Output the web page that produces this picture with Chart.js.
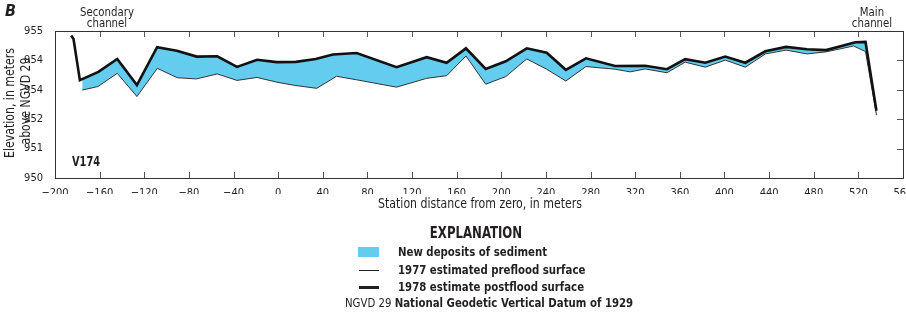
<!DOCTYPE html>
<html>
<head>
<meta charset="utf-8">
<script src="https://cdn.jsdelivr.net/npm/chart.js@4/dist/chart.umd.min.js"></script>
<style>
  body { margin: 0; background: #fff; }
  #wrap { position: relative; width: 906px; height: 313px; overflow: hidden; font-family: 'Liberation Sans Narrow', 'DejaVu Sans Condensed', 'Arial Narrow', sans-serif; color: #231f20; }
  #wrap canvas { position: absolute; left: 0; top: 0; }
  .t { position: absolute; white-space: nowrap; }
  .b { font-weight: bold; }
  .c { transform: translateX(-50%) scaleX(.87); text-align: center; }
  .l { transform: scaleX(.87); transform-origin: left center; }
</style>
</head>
<body>
<div id="wrap">
  <canvas id="grafica" width="906" height="313"></canvas>
  <div class="t b" style="left:5px;top:1px;font-size:16px;font-style:italic;">B</div>
  <div class="t c" style="left:107px;top:6px;font-size:13px;line-height:11px;">Secondary<br>channel</div>
  <div class="t c" style="left:872px;top:6px;font-size:13px;line-height:11px;">Main<br>channel</div>
  <div class="t" style="left:9px;top:103px;font-size:14px;transform:translate(-50%,-50%) rotate(-90deg) scaleX(.87);">Elevation, in meters</div>
  <div class="t" style="left:25px;top:101px;font-size:14px;transform:translate(-50%,-50%) rotate(-90deg) scaleX(.87);">above NGVD 29</div>
  <div class="t b" style="left:72px;top:153px;font-size:14px;transform:scaleX(.78);transform-origin:left center;">V174</div>
  <div class="t c" style="left:480px;top:195px;font-size:14px;">Station distance from zero, in meters</div>
  <div class="t b c" style="left:476px;top:224px;font-size:15px;">EXPLANATION</div>
  <div class="t" style="left:358px;top:247px;width:21px;height:10px;background:#63ccef;"></div>
  <div class="t b l" style="left:398px;top:244px;font-size:13px;">New deposits of sediment</div>
  <div class="t" style="left:359px;top:270px;width:20px;height:1px;background:#231f20;"></div>
  <div class="t b l" style="left:398px;top:262px;font-size:13px;">1977 estimated preflood surface</div>
  <div class="t" style="left:359px;top:286px;width:20px;height:3px;background:#231f20;"></div>
  <div class="t b l" style="left:398px;top:279px;font-size:13px;">1978 estimate postflood surface</div>
  <div class="t l" style="left:345px;top:295px;font-size:13px;">NGVD 29 <span class="b">National Geodetic Vertical Datum of 1929</span></div>
</div>
<script>
// estaciones (m) y elevaciones (m)
const postX = [-185.5, -183.4, -177.7, -161.1, -144.2, -126.6, -108.5, -90.8, -73.0, -54.6,
  -36.9, -18.9, -1.3, 15.8, 33.7, 49.0, 70.3, 106.1, 133.1, 151.0,
  168.3, 186.0, 204.0, 222.8, 240.7, 257.8, 275.9, 302.0, 328.9, 348.4,
  364.8, 382.8, 400.7, 418.7, 436.6, 455.2, 474.0, 491.1, 517.4, 526.4, 536.2];
const postY = [954.85, 954.73, 953.33, 953.61, 954.05, 953.16, 954.45, 954.33, 954.13, 954.14,
  953.78, 954.02, 953.94, 953.95, 954.05, 954.20, 954.25, 953.77, 954.11, 953.92,
  954.41, 953.71, 953.97, 954.41, 954.26, 953.68, 954.07, 953.81, 953.82, 953.70,
  954.04, 953.92, 954.13, 953.92, 954.31, 954.46, 954.38, 954.35, 954.62, 954.63, 952.29];

const preX = [-175.6, -161.6, -144.2, -126.6, -108.3, -90.4, -73.3, -54.6, -36.9, -18.9,
  -1.3, 14.9, 34.6, 52.3, 70.3, 106.1, 133.1, 151.0, 168.3, 186.0,
  204.0, 222.8, 240.7, 257.8, 275.8, 302.0, 315.5, 328.9, 348.4, 364.8,
  382.8, 400.7, 418.7, 436.6, 455.2, 474.0, 491.1, 515.8, 526.4, 536.2];
const preY = [952.99, 953.11, 953.56, 952.77, 953.73, 953.41, 953.37, 953.54, 953.32, 953.42,
  953.26, 953.15, 953.05, 953.46, 953.34, 953.09, 953.39, 953.48, 954.15, 953.19,
  953.45, 954.05, 953.70, 953.30, 953.79, 953.70, 953.61, 953.71, 953.58, 953.94,
  953.77, 954.01, 953.77, 954.22, 954.35, 954.22, 954.29, 954.49, 954.30, 952.14];

// etiquetas del eje Y tal como aparecen en la figura
const yTickLabels = ['950', '951', '952', '954', '954', '955'];

const fuente = "'Liberation Sans Narrow', 'DejaVu Sans Condensed', 'Arial Narrow', sans-serif";

// marco y marcas hacia adentro
const marco = {
  id: 'marco',
  afterDraw(chart) {
    const c = chart.ctx, a = chart.chartArea;
    const xs = chart.scales.x, ys = chart.scales.y;
    c.save();
    c.strokeStyle = '#555';
    c.lineWidth = 1;
    xs.ticks.forEach(t => {
      const px = Math.round(xs.getPixelForValue(t.value)) + 0.5;
      c.beginPath();
      c.moveTo(px, a.bottom); c.lineTo(px, a.bottom - 6);
      c.moveTo(px, a.top); c.lineTo(px, a.top + 6);
      c.stroke();
    });
    ys.ticks.forEach(t => {
      const py = Math.round(ys.getPixelForValue(t.value)) + 0.5;
      c.beginPath();
      c.moveTo(a.right, py); c.lineTo(a.right - 6, py);
      c.stroke();
    });
    c.strokeStyle = '#333';
    c.strokeRect(Math.round(a.left) + 0.5, Math.round(a.top) + 0.5, Math.round(a.right - a.left), Math.round(a.bottom - a.top));
    c.restore();
  }
};

new Chart(document.getElementById('grafica').getContext('2d'), {
  type: 'scatter',
  data: {
    datasets: [{
      label: '1978 estimate postflood surface',
      data: postX.map((x, i) => ({ x: x, y: postY[i] })),
      showLine: true,
      borderColor: '#111',
      borderWidth: 2.6,
      pointRadius: 0,
      tension: 0,
      fill: false
    }, {
      label: '1977 estimated preflood surface',
      data: preX.map((x, i) => ({ x: x, y: preY[i] })),
      showLine: true,
      borderColor: '#333',
      borderWidth: 1,
      pointRadius: 0,
      tension: 0,
      fill: '-1',
      backgroundColor: '#63ccef'
    }]
  },
  options: {
    responsive: false,
    animation: false,
    layout: { padding: { left: 0, top: 31, right: 3, bottom: 119 } },
    plugins: { legend: { display: false }, tooltip: { enabled: false } },
    scales: {
      x: {
        type: 'linear', min: -200, max: 560,
        afterFit: s => { s.height = 16; s.paddingLeft = 0; s.paddingRight = 0; },
        ticks: {
          stepSize: 40, padding: 1, color: '#231f20', maxRotation: 0, autoSkip: false,
          font: { family: fuente, size: 11 },
          callback: v => String(v).replace('-', '\u2212')
        },
        grid: { display: false },
        border: { display: false }
      },
      y: {
        type: 'linear', min: 950, max: 955,
        afterFit: s => { s.width = 55; s.paddingTop = 0; s.paddingBottom = 0; },
        ticks: {
          stepSize: 1, padding: 4, color: '#231f20',
          font: { family: fuente, size: 11 },
          callback: (v, i) => yTickLabels[i]
        },
        grid: { display: false },
        border: { display: false }
      }
    }
  },
  plugins: [marco]
});
</script>
</body>
</html>
